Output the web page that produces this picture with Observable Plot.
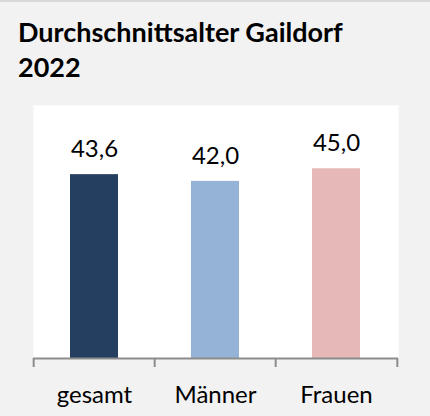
<!DOCTYPE html>
<html>
<head>
<meta charset="utf-8">
<script src="https://cdn.jsdelivr.net/npm/d3@7"></script>
<script src="https://cdn.jsdelivr.net/npm/@observablehq/plot@0.6"></script>
<style>
  html, body { margin: 0; padding: 0; background: #f2f2f2; }
  #wrap { width: 430px; height: 416px; box-sizing: border-box; border-top: 2px solid #d9d9d9; background: #f2f2f2; overflow: hidden; }
  #title { font-family: Lato, "Open Sans", sans-serif; font-weight: 700; font-size: 27px; line-height: 35px; padding: 12px 0 0 18px; height: 80px; box-sizing: border-box; color: #000; white-space: nowrap; }
  svg { display: block; }
</style>
</head>
<body>
<div id="wrap">
  <div id="title">Durchschnittsalter Gaildorf<br>2022</div>
  <div id="chart"></div>
</div>
<script>
const categories = ["gesamt", "Männer", "Frauen"];
const values = [43.6, 42.0, 45.0];
const colors = ["#243F60", "#95B3D7", "#E6B9B8"];
const yDomain = [0, 60];

const data = categories.map((c, i) => ({ cat: c, value: values[i], color: colors[i] }));
const fmt = v => d3.format(".1f")(v).replace(".", ",");

const width = 430, height = 334;
const marginLeft = 33, marginRight = 32, marginTop = 23, marginBottom = 58;
const step = (width - marginLeft - marginRight) / categories.length;
const axisColor = "#8c8c8c";

const chart = Plot.plot({
  width, height,
  marginLeft, marginRight, marginTop, marginBottom,
  style: { background: "transparent", fontFamily: "Lato, 'Open Sans', sans-serif", color: "#000" },
  x: { domain: categories, paddingInner: 0.6, paddingOuter: 0.3, label: null },
  y: { domain: yDomain, axis: null },
  marks: [
    Plot.frame({ fill: "white", stroke: null }),
    Plot.barY(data, { x: "cat", y: "value", fill: "color" }),
    Plot.ruleY([0], { stroke: axisColor, strokeWidth: 2 }),
    Plot.axisX({ tickSize: 9, text: null, dx: -step / 2, stroke: axisColor, strokeWidth: 2 }),
    Plot.axisX({ ticks: [categories[categories.length - 1]], tickSize: 9, text: null, dx: step / 2, stroke: axisColor, strokeWidth: 2 }),
    Plot.axisX({ tickSize: 0, tickPadding: 27, fontSize: 24, fill: "#000", label: null }),
    Plot.text(data, { x: "cat", y: "value", text: d => fmt(d.value), dy: -25, fontSize: 24, fill: "#000" })
  ]
});
document.getElementById("chart").appendChild(chart);
</script>
</body>
</html>
